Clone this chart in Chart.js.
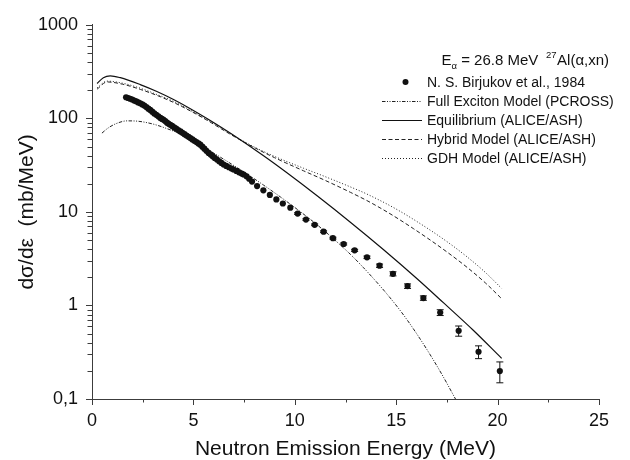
<!DOCTYPE html>
<html>
<head>
<meta charset="utf-8">
<script src="https://cdn.jsdelivr.net/npm/chart.js@4/dist/chart.umd.min.js"></script>
<style>
html,body{margin:0;padding:0;background:#fff;}
#wrap{width:630px;height:460px;position:relative;}
</style>
</head>
<body>
<div id="wrap"><canvas id="c" width="630" height="460"></canvas></div>
<script>
// ---------- data ----------
const seriesLabels = [
  'N. S. Birjukov et al., 1984',
  'Full Exciton Model (PCROSS)',
  'Equilibrium (ALICE/ASH)',
  'Hybrid Model (ALICE/ASH)',
  'GDH Model (ALICE/ASH)'
];

// experimental points: energy (MeV), dσ/dε (mb/MeV), error (mb/MeV)
const expEnergy = [1.68,1.78,1.88,1.98,2.08,2.18,2.28,2.38,2.48,2.58,2.68,2.78,2.87,2.97,3.07,3.17,3.27,3.37,3.45,3.53,
  3.61,3.70,3.78,3.86,3.95,4.05,4.15,4.25,4.36,4.46,4.56,4.66,4.76,4.85,4.95,5.05,5.15,5.25,5.34,5.44,
  5.54,5.64,5.75,5.85,5.95,6.05,6.16,6.27,6.38,6.49,6.62,6.75,6.88,6.98,7.12,7.25,7.38,7.48,7.62,7.75,
  7.89,8.14,8.45,8.77,9.09,9.41,9.78,10.14,10.55,10.98,11.42,11.88,12.41,12.95,13.56,14.18,14.84,15.56,16.34,17.17,
  18.08,19.06,20.11];
const expSigma = [168,165,162,159,155,152,148,145,141,137,132,127,123,118,113,109,105,101,98.5,96.6,
  93.5,90,87.5,85.4,83,80,77.5,75,72.4,70,67.8,65.6,63.5,61.5,59.5,57.5,55.8,54,52.3,49.8,
  47.4,45,42.7,41,39.4,37.8,36.3,34.8,33.4,32.1,31.0,30.0,29.1,28.4,27.4,26.5,25.7,25.1,24,22.6,
  21.1,18.9,17.0,15.2,13.6,12.3,11.1,9.6,8.28,7.28,6.14,5.24,4.54,3.88,3.27,2.66,2.18,1.61,1.20,0.84,
  0.536,0.320,0.199];
const expError = [0,0,0,0,0,0,0,0,0,0,0,0,0,0,0,0,0,0,0,0,
  0,0,0,0,0,0,0,0,0,0,0,0,0,0,0,0,0,0,0,0,
  0,0,0,0,0,0,0,0,0,0,0,0,0,0,0,0,0,0,0,0,
  0,0,0,0,0,0,0,0.2,0.17,0.15,0.13,0.12,0.11,0.1,0.1,0.11,0.11,0.09,0.065,0.06,
  0.067,0.05,0.05];

const excitonEnergy = [0.49,0.8,1.2,1.73,2.3,3.0,3.6,4.35,5.0,5.7,6.5,7.47,8.45,9.3,10.27,11.1,11.91,12.74,13.39,14.38,15.04,15.53,16.1,16.68,17.3,17.87,18.2];
const excitonSigma  = [69.5,79,88,94,93,87,79,68,56.9,46.5,36.5,26.9,19.4,14.4,10.07,7.28,5.15,3.52,2.53,1.46,0.977,0.705,0.466,0.296,0.176,0.105,0.078];

const equilibriumEnergy = [0.25,0.56,0.9,1.4,2.38,3.2,4.02,4.85,5.67,6.98,8.46,9.58,11.1,12.74,14.38,16.03,17.34,18.8,20.2];
const equilibriumSigma  = [236,272,285,272,229.6,193.6,158.9,126.8,99.5,65.9,39.8,26.5,14.86,7.76,3.94,1.93,1.064,0.543,0.272];

const hybridEnergy = [0.25,0.74,1.5,2.38,3.2,4.02,4.85,5.67,6.9,8.0,9.0,10.43,11.5,12.74,13.56,14.38,15.04,15.86,16.68,17.51,18.5,19.4,20.2];
const hybridSigma  = [205,245,232,204,176,148,120,95.5,66,48.8,38.0,27.5,21.7,16.2,13.2,10.5,8.6,6.6,5.0,3.72,2.55,1.74,1.18];

const gdhEnergy = [0.25,0.74,1.5,2.38,3.2,4.02,4.85,5.67,6.9,8.0,9.0,10.43,11.5,12.74,13.56,15.04,16.68,17.67,18.5,19.4,20.2];
const gdhSigma  = [212,250,238,210,180,152,122,97,67,49.4,39.2,29.3,23.8,18.5,15.5,10.6,6.38,4.53,3.30,2.25,1.52];

const xTickValues = [0,5,10,15,20,25];
const xTickLabels = ['0','5','10','15','20','25'];
const yTickValues = [0.1,1,10,100,1000];
const yTickLabels = ['0,1','1','10','100','1000'];
const yMinorMantissas = [2,3,4,5,6,7,8,9];

const xTitle = 'Neutron Emission Energy (MeV)';
const yTitle = 'dσ/dε  (mb/MeV)';

// ---------- chart ----------
const FONT = '"Liberation Sans", Arial, Helvetica, sans-serif';
const ink = '#111';
const axisColor = '#3c3c3c';

const pairs = (xs, ys) => xs.map((x, i) => ({x: x, y: ys[i]}));

const yAllTicks = [];
yTickValues.forEach((v, i) => {
  yAllTicks.push(v);
  if (i < yTickValues.length - 1) yMinorMantissas.forEach(m => yAllTicks.push(+(v * m).toPrecision(6)));
});

const errorBarPlugin = {
  id: 'errorBars',
  afterDatasetsDraw(chart) {
    const ctx = chart.ctx, xs = chart.scales.x, ys = chart.scales.y;
    ctx.save();
    ctx.strokeStyle = ink;
    ctx.lineWidth = 1;
    ctx.beginPath();
    expEnergy.forEach((e, i) => {
      const err = expError[i];
      if (!err) return;
      const px = xs.getPixelForValue(e);
      const yt = ys.getPixelForValue(expSigma[i] + err);
      const yb = ys.getPixelForValue(expSigma[i] - err);
      ctx.moveTo(px, yt); ctx.lineTo(px, yb);
      ctx.moveTo(px - 3.5, yt); ctx.lineTo(px + 3.5, yt);
      ctx.moveTo(px - 3.5, yb); ctx.lineTo(px + 3.5, yb);
    });
    ctx.stroke();
    ctx.restore();
  }
};

const tickPlugin = {
  id: 'axisTicks',
  afterDraw(chart) {
    const ctx = chart.ctx, xs = chart.scales.x, ys = chart.scales.y;
    ctx.save();
    ctx.strokeStyle = axisColor;
    ctx.lineWidth = 1;
    ctx.beginPath();
    xs.ticks.forEach(t => {
      const px = Math.round(xs.getPixelForValue(t.value)) + 0.5;
      const L = xTickValues.includes(t.value) ? 6 : 3.5;
      ctx.moveTo(px, xs.top); ctx.lineTo(px, xs.top + L);
    });
    ys.ticks.forEach(t => {
      const py = Math.round(ys.getPixelForValue(t.value)) + 0.5;
      const L = yTickValues.includes(t.value) ? 6 : 4.5;
      ctx.moveTo(ys.right, py); ctx.lineTo(ys.right - L, py);
    });
    ctx.stroke();
    ctx.restore();
  }
};

const legendPlugin = {
  id: 'legendBox',
  afterDraw(chart) {
    const ctx = chart.ctx;
    const F = s => s + 'px ' + FONT;
    ctx.save();
    ctx.fillStyle = ink;
    ctx.strokeStyle = ink;
    ctx.textAlign = 'left';
    ctx.textBaseline = 'alphabetic';
    // heading: E_α = 26.8 MeV   ^27Al(α,xn)
    let x = 441.5; const by = 65;
    ctx.font = F(15); ctx.fillText('E', x, by); x += ctx.measureText('E').width;
    ctx.font = F(9.5); ctx.fillText('α', x, by + 4); x += ctx.measureText('α').width;
    ctx.font = F(15); ctx.fillText(' = 26.8 MeV', x, by);
    x = 546;
    ctx.font = F(9.5); ctx.fillText('27', x, by - 7); x += ctx.measureText('27').width + 0.5;
    ctx.font = F(15); ctx.fillText('Al(α,xn)', x, by);

    // entries
    const ds = chart.data.datasets;
    ctx.font = F(14);
    ds.forEach((d, i) => {
      const base = 87 + i * 19;
      const my = base - 5;
      if (i === 0) {
        ctx.beginPath();
        ctx.arc(405.5, my, 3, 0, Math.PI * 2);
        ctx.fill();
      } else {
        ctx.save();
        ctx.lineWidth = d.borderWidth;
        ctx.strokeStyle = d.borderColor;
        ctx.setLineDash(d.borderDash || []);
        ctx.beginPath();
        ctx.moveTo(382, my + 0.5); ctx.lineTo(422, my + 0.5);
        ctx.stroke();
        ctx.restore();
      }
      ctx.fillText(d.label, 427, base);
    });
    ctx.restore();
  }
};

new Chart(document.getElementById('c'), {
  type: 'line',
  data: {
    datasets: [
      {label: seriesLabels[0], data: pairs(expEnergy, expSigma), showLine: false,
       pointRadius: 3.1, pointHoverRadius: 3.1, pointBackgroundColor: ink, pointBorderWidth: 0, borderColor: ink},
      {label: seriesLabels[1], data: pairs(excitonEnergy, excitonSigma), borderColor: '#222', borderWidth: 1,
       borderDash: [3.5, 1.5, 1, 1.5, 1, 1.5], pointRadius: 0, cubicInterpolationMode: 'monotone', fill: false},
      {label: seriesLabels[2], data: pairs(equilibriumEnergy, equilibriumSigma), borderColor: '#111', borderWidth: 1.2,
       pointRadius: 0, cubicInterpolationMode: 'monotone', fill: false},
      {label: seriesLabels[3], data: pairs(hybridEnergy, hybridSigma), borderColor: '#222', borderWidth: 1,
       borderDash: [4, 2.5], pointRadius: 0, cubicInterpolationMode: 'monotone', fill: false},
      {label: seriesLabels[4], data: pairs(gdhEnergy, gdhSigma), borderColor: '#222', borderWidth: 1,
       borderDash: [1, 2], pointRadius: 0, cubicInterpolationMode: 'monotone', fill: false}
    ]
  },
  options: {
    responsive: false,
    animation: false,
    devicePixelRatio: 1,
    events: [],
    layout: {padding: {left: 0, right: 31, top: 23, bottom: 0}},
    plugins: {legend: {display: false}, tooltip: {enabled: false}},
    scales: {
      x: {
        type: 'linear', min: 0, max: 25,
        afterFit: s => { s.height = 61; },
        grid: {display: true, drawOnChartArea: false, drawTicks: false},
        border: {display: true, color: axisColor, width: 1},
        ticks: {
          stepSize: 2.5, autoSkip: false, maxRotation: 0, padding: 11, color: ink,
          font: {family: FONT, size: 18},
          callback: v => { const i = xTickValues.indexOf(v); return i >= 0 ? xTickLabels[i] : ''; }
        },
        title: {display: true, text: xTitle, color: ink, font: {family: FONT, size: 21, lineHeight: 1}, padding: {top: 0, bottom: 0}}
      },
      y: {
        type: 'logarithmic', min: 0.1, max: 1000,
        afterFit: s => { s.width = 92; },
        afterBuildTicks: s => { s.ticks = yAllTicks.map(v => ({value: v})); },
        grid: {display: true, drawOnChartArea: false, drawTicks: false},
        border: {display: true, color: axisColor, width: 1},
        ticks: {
          autoSkip: false, padding: 14, color: ink,
          font: {family: FONT, size: 18},
          callback: v => { const i = yTickValues.findIndex(t => Math.abs(t - v) < 1e-9); return i >= 0 ? yTickLabels[i] : ''; }
        },
        title: {display: true, text: yTitle, color: ink, font: {family: FONT, size: 21, lineHeight: 1}, padding: {top: 17, bottom: 0}}
      }
    }
  },
  plugins: [errorBarPlugin, tickPlugin, legendPlugin]
});
</script>
</body>
</html>
